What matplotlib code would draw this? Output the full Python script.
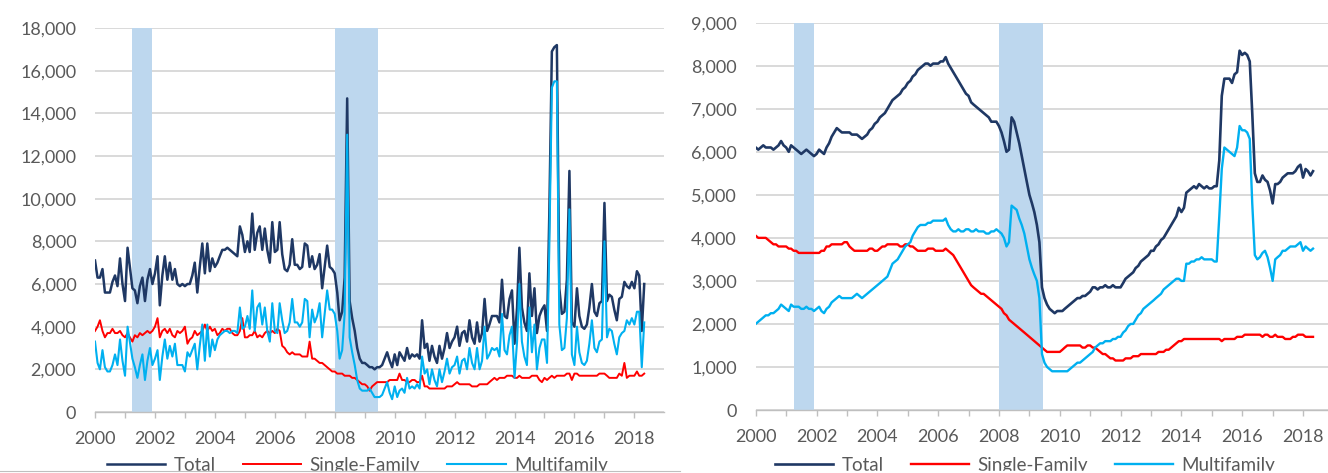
import matplotlib
matplotlib.use("Agg")
import matplotlib.pyplot as plt
import matplotlib.dates as mdates
from matplotlib.patches import Rectangle
from matplotlib.lines import Line2D
from matplotlib.ticker import FuncFormatter
import pandas as pd

plt.rcParams['font.family'] = ['Lato', 'DejaVu Sans']

# monthly, Jan 2000 - May 2018
months = pd.date_range('2000-01-01', periods=221, freq='MS')

# left panel: monthly permits (raw)
total_monthly = [
    7100, 6300, 6300, 6700, 5600, 5600, 5600, 6100, 6400, 5900, 7200, 6000,
    5200, 7700, 6800, 5800, 5700, 5100, 5900, 6300, 5200, 6200, 6700, 6000,
    6500, 7300, 5000, 6400, 7300, 6200, 7000, 6200, 6700, 6000, 5900, 6000,
    5900, 6000, 6000, 6400, 7000, 5600, 6800, 7900, 6500, 7900, 6600, 7200,
    6800, 7000, 7300, 7600, 7600, 7700, 7600, 7500, 7400, 7300, 8700, 8300,
    7500, 8000, 7500, 9300, 7600, 8400, 8700, 7600, 8600, 7600, 7000, 8900,
    7500, 7600, 8900, 7400, 6700, 6600, 6900, 8100, 6900, 6900, 6700, 6800,
    7900, 7800, 6800, 7300, 6700, 6900, 7400, 5800, 6800, 7800, 6800, 6700,
    6500, 5600, 4300, 4700, 6300, 14700, 5200, 4400, 3800, 3000, 2500, 2300,
    2300, 2200, 2100, 2100, 2000, 2100, 2100, 2200, 2500, 2800, 2400, 2100,
    2700, 2200, 2800, 2600, 2400, 3000, 2500, 2700, 2600, 2700, 2500, 4300,
    3000, 3200, 2400, 3100, 2600, 2300, 3100, 2500, 3000, 3700, 3000, 3300,
    3500, 4000, 3100, 3700, 3800, 3300, 4300, 3500, 3200, 4200, 3300, 3700,
    5300, 3800, 4100, 4500, 4500, 4500, 4200, 6200, 4500, 4400, 5300, 5700,
    3200, 4900, 7700, 4900, 4200, 3800, 6500, 4500, 5800, 3700, 4500, 4800,
    5000, 3800, 9300, 16900, 17100, 17200, 5800, 4600, 4700, 6200, 11300, 4200,
    4000, 5800, 4500, 4000, 3900, 4100, 4900, 6000, 4700, 4500, 5100, 5200,
    9800, 5200, 5500, 5400, 4800, 4300, 5300, 5400, 6100, 5900, 5800, 6100,
    5800, 6600, 6400, 3800, 6000,
]
single_monthly = [
    3800, 4000, 4300, 3800, 3500, 3700, 3700, 3900, 3700, 3700, 3800, 3600,
    3500, 3700, 3500, 3300, 3600, 3500, 3700, 3600, 3700, 3800, 3700, 3800,
    4000, 4400, 3500, 3800, 3900, 3700, 3900, 3600, 3500, 3800, 3700, 3800,
    4000, 3200, 3400, 3500, 3800, 3600, 3700, 3800, 4100, 3800, 4000, 3800,
    3900, 3600, 3700, 3900, 3800, 3900, 3900, 3700, 3600, 3600, 3800, 4400,
    3500, 3500, 3600, 3600, 3800, 3500, 3600, 3500, 3700, 3800, 3700, 3800,
    3700, 3900, 3800, 3100, 3000, 2800, 2700, 2800, 2700, 2700, 2700, 2600,
    2600, 2600, 3300, 2500, 2500, 2400, 2300, 2300, 2200, 2100, 2000, 1900,
    1900, 1800, 1800, 1800, 1700, 1700, 1700, 1600, 1600, 1500, 1400, 1300,
    1300, 1200, 1000, 1200, 1300, 1400, 1400, 1400, 1400, 1400, 1500, 1500,
    1500, 1500, 1800, 1500, 1500, 1400, 1400, 1500, 1500, 1400, 1400, 1700,
    1200, 1200, 1100, 1100, 1100, 1100, 1100, 1100, 1100, 1200, 1200, 1200,
    1300, 1400, 1300, 1300, 1300, 1300, 1300, 1200, 1200, 1200, 1300, 1300,
    1300, 1300, 1400, 1500, 1600, 1500, 1600, 1600, 1600, 1700, 1700, 1700,
    1600, 1600, 1700, 1600, 1600, 1600, 1600, 1700, 1700, 1700, 1500, 1400,
    1600, 1500, 1600, 1700, 1600, 1700, 1700, 1700, 1700, 1800, 1800, 1500,
    1800, 1800, 1700, 1700, 1700, 1700, 1700, 1700, 1700, 1700, 1800, 1800,
    1800, 1700, 1600, 1600, 1600, 1600, 1800, 1700, 2300, 1600, 1700, 1700,
    1700, 1900, 1700, 1700, 1800,
]
multi_monthly = [
    3300, 2300, 2000, 2900, 2100, 1900, 1900, 2200, 2700, 2200, 3400, 2400,
    1700, 4000, 3300, 2500, 2100, 1600, 2200, 2700, 1500, 2400, 3000, 2200,
    2500, 2900, 1500, 2600, 3400, 2500, 3100, 2600, 3200, 2200, 2200, 2200,
    1900, 2800, 2600, 2900, 3200, 2000, 3100, 4100, 2400, 4100, 2600, 3400,
    2900, 3400, 3600, 3700, 3800, 3800, 3700, 3800, 3800, 3700, 4900, 3900,
    4000, 4500, 3900, 5700, 3800, 4900, 5100, 4100, 4900, 3800, 3300, 5100,
    3800, 3700, 5100, 4300, 3700, 3800, 4200, 5300, 4200, 4200, 4000, 4200,
    5300, 5200, 3500, 4800, 4200, 4500, 5100, 3500, 4600, 5700, 4800, 4800,
    4600, 3800, 2500, 2900, 4600, 13000, 3500, 2800, 2200, 1500, 1100, 1000,
    1000, 1000, 1100, 900, 700, 700, 700, 800, 1100, 1400, 900, 600,
    1200, 700, 1000, 1100, 900, 1600, 1100, 1200, 1100, 1300, 1100, 2600,
    1800, 2000, 1300, 2000, 1500, 1200, 2000, 1400, 1900, 2500, 1800, 2100,
    2200, 2600, 1800, 2400, 2500, 2000, 3000, 2300, 2000, 3000, 2000, 2400,
    4000, 2500, 2700, 3000, 2900, 3000, 2600, 4600, 2900, 2700, 3600, 4000,
    1600, 3300, 6000, 3300, 2600, 2200, 4900, 2800, 4100, 2000, 3000, 3400,
    3400, 2300, 7700, 15200, 15500, 15500, 4100, 2900, 3000, 4400, 9500, 2700,
    2200, 4000, 2800, 2300, 2200, 2400, 3200, 4300, 3000, 2800, 3300, 3400,
    8000, 3500, 3900, 3800, 3200, 2700, 3500, 3700, 3800, 4300, 4100, 4400,
    4100, 4700, 4700, 2100, 4200,
]

# right panel: smoothed permits
total_smooth = [
    6100, 6050, 6100, 6150, 6100, 6100, 6100, 6050, 6100, 6150, 6250, 6150,
    6100, 6000, 6150, 6100, 6050, 6000, 5950, 6000, 6050, 6000, 5950, 5900,
    5950, 6050, 6000, 5950, 6100, 6200, 6350, 6450, 6550, 6500, 6450, 6450,
    6450, 6450, 6400, 6400, 6400, 6350, 6300, 6350, 6400, 6500, 6550, 6650,
    6700, 6800, 6850, 6900, 7000, 7100, 7200, 7250, 7300, 7350, 7450, 7500,
    7600, 7650, 7750, 7800, 7900, 7950, 8000, 8050, 8050, 8000, 8050, 8050,
    8050, 8100, 8100, 8200, 8050, 7950, 7850, 7750, 7650, 7550, 7450, 7350,
    7300, 7150, 7100, 7050, 7000, 6950, 6900, 6850, 6800, 6700, 6700, 6700,
    6600, 6450, 6250, 6000, 6050, 6800, 6700, 6450, 6200, 5900, 5600, 5300,
    5000, 4800, 4600, 4300, 3900, 2850, 2600, 2450, 2350, 2300, 2250, 2300,
    2300, 2300, 2350, 2400, 2450, 2500, 2550, 2600, 2600, 2650, 2650, 2700,
    2750, 2850, 2850, 2800, 2850, 2850, 2900, 2850, 2850, 2900, 2850, 2850,
    2850, 2950, 3050, 3100, 3150, 3200, 3300, 3350, 3450, 3500, 3550, 3600,
    3700, 3700, 3800, 3850, 3950, 4000, 4100, 4200, 4300, 4400, 4500, 4700,
    4600, 4700, 5050, 5100, 5150, 5200, 5150, 5250, 5200, 5150, 5200, 5150,
    5150, 5200, 5200, 5800, 7300, 7700, 7700, 7700, 7600, 7800, 7850, 8350,
    8250, 8300, 8250, 8100, 6900, 5500, 5300, 5300, 5450, 5350, 5300, 5100,
    4800, 5250, 5250, 5300, 5400, 5450, 5500, 5500, 5500, 5550, 5650, 5700,
    5400, 5600, 5550, 5450, 5550,
]
single_smooth = [
    4050, 4000, 4000, 4000, 4000, 3950, 3900, 3850, 3850, 3800, 3800, 3800,
    3800, 3750, 3750, 3700, 3700, 3650, 3650, 3650, 3650, 3650, 3650, 3650,
    3650, 3650, 3700, 3700, 3800, 3800, 3850, 3850, 3850, 3850, 3850, 3900,
    3900, 3800, 3750, 3700, 3700, 3700, 3700, 3700, 3700, 3750, 3750, 3700,
    3700, 3750, 3800, 3800, 3850, 3850, 3850, 3850, 3850, 3800, 3800, 3850,
    3850, 3800, 3800, 3750, 3700, 3700, 3700, 3700, 3750, 3750, 3750, 3700,
    3700, 3700, 3700, 3750, 3700, 3650, 3600, 3500, 3400, 3300, 3200, 3100,
    3000, 2900, 2850, 2800, 2750, 2700, 2700, 2650, 2600, 2550, 2500, 2450,
    2400, 2350, 2250, 2200, 2100, 2050, 2000, 1950, 1900, 1850, 1800, 1750,
    1700, 1650, 1600, 1550, 1500, 1450, 1400, 1350, 1350, 1350, 1350, 1350,
    1350, 1400, 1450, 1500, 1500, 1500, 1500, 1500, 1500, 1450, 1450, 1500,
    1500, 1450, 1450, 1400, 1350, 1300, 1300, 1250, 1200, 1200, 1150, 1150,
    1150, 1150, 1200, 1200, 1200, 1250, 1250, 1250, 1300, 1300, 1300, 1300,
    1300, 1300, 1300, 1350, 1350, 1350, 1400, 1400, 1450, 1500, 1550, 1600,
    1600, 1650, 1650, 1650, 1650, 1650, 1650, 1650, 1650, 1650, 1650, 1650,
    1650, 1650, 1650, 1650, 1600, 1650, 1650, 1650, 1650, 1650, 1700, 1700,
    1700, 1750, 1750, 1750, 1750, 1750, 1750, 1750, 1700, 1750, 1750, 1700,
    1700, 1750, 1700, 1700, 1700, 1650, 1650, 1650, 1700, 1700, 1750, 1750,
    1750, 1700, 1700, 1700, 1700,
]
multi_smooth = [
    2000, 2050, 2100, 2150, 2200, 2200, 2250, 2250, 2300, 2350, 2450, 2400,
    2350, 2300, 2450, 2400, 2400, 2400, 2350, 2350, 2400, 2350, 2350, 2300,
    2350, 2400, 2300, 2250, 2350, 2400, 2500, 2550, 2600, 2650, 2600, 2600,
    2600, 2600, 2600, 2650, 2700, 2650, 2600, 2650, 2700, 2750, 2800, 2850,
    2900, 2950, 3000, 3050, 3100, 3250, 3400, 3450, 3500, 3600, 3700, 3800,
    3850, 3900, 4050, 4150, 4250, 4300, 4300, 4300, 4350, 4350, 4400, 4400,
    4400, 4400, 4400, 4450, 4300, 4200, 4150, 4150, 4200, 4150, 4150, 4200,
    4200, 4150, 4150, 4200, 4150, 4150, 4150, 4100, 4100, 4150, 4150, 4200,
    4150, 4100, 4000, 3800, 3900, 4750, 4700, 4650, 4450, 4300, 4100, 3800,
    3500, 3300, 3150, 3000, 2600, 1300, 1100, 1000, 950, 900, 900, 900,
    900, 900, 900, 900, 950, 1000, 1050, 1100, 1100, 1150, 1200, 1250,
    1300, 1350, 1450, 1500, 1550, 1550, 1600, 1600, 1600, 1650, 1650, 1700,
    1700, 1800, 1850, 1950, 2000, 2000, 2100, 2200, 2250, 2350, 2400, 2450,
    2500, 2550, 2600, 2650, 2700, 2800, 2850, 2900, 2950, 3000, 3050, 3050,
    3000, 3000, 3400, 3400, 3450, 3450, 3500, 3500, 3550, 3500, 3500, 3500,
    3500, 3450, 3450, 4500, 5600, 6100, 6050, 6000, 5950, 5900, 6100, 6600,
    6500, 6500, 6450, 6300, 4800, 3600, 3500, 3550, 3650, 3700, 3550, 3300,
    3000, 3500, 3550, 3600, 3700, 3700, 3750, 3800, 3800, 3800, 3850, 3900,
    3700, 3800, 3750, 3700, 3750,
]

# recessions (shaded)
recession_start = ['2001-04-01', '2008-01-01']
recession_end = ['2001-11-30', '2009-06-15']

series_names = ['Total', 'Single-Family', 'Multifamily']
series_colors = ['#1F3864', '#FF0000', '#00B0F0']

GRID = '#D9D9D9'
AXIS = '#BFBFBF'
LABEL = '#595959'
SHADE = '#BDD7EE'

W, H = 1328, 473
fig = plt.figure(figsize=(W / 100, H / 100), dpi=100)

ax1 = fig.add_axes([95 / W, 1 - 412 / H, (664 - 95) / W, (412 - 28) / H])
ax2 = fig.add_axes([755.7 / W, 1 - 410 / H, (W - 755.7) / W, (410 - 22.7) / H])

panels = [
    (ax1, [total_monthly, single_monthly, multi_monthly], 18000, 2000,
     '2018-12-28', [1.8, 1.4, 1.5], 357.5),
    (ax2, [total_smooth, single_smooth, multi_smooth], 9000, 1000,
     '2018-10-28', [1.9, 1.7, 1.7], 1025),
]

for ax, data, ymax, ystep, xend, widths, legend_x in panels:
    for s, e in zip(recession_start, recession_end):
        ax.axvspan(pd.Timestamp(s), pd.Timestamp(e), color=SHADE, lw=0, zorder=1)

    lines = []
    for vals, name, col, lw in zip(data, series_names, series_colors, widths):
        ln, = ax.plot(months, vals, color=col, lw=lw, label=name, zorder=3)
        lines.append(ln)

    ax.set_ylim(0, ymax)
    ax.set_yticks(range(0, ymax + 1, ystep))
    ax.yaxis.set_major_formatter(FuncFormatter(lambda v, p: f'{v:,.0f}'))
    ax.set_xlim(pd.Timestamp('2000-01-01'), pd.Timestamp(xend))
    ax.xaxis.set_major_locator(mdates.YearLocator(2))
    ax.xaxis.set_minor_locator(mdates.YearLocator(1))
    ax.xaxis.set_major_formatter(mdates.DateFormatter('%Y'))

    ax.yaxis.grid(True, color=GRID, lw=1.4)
    ax.set_axisbelow(True)
    for side in ['left', 'top', 'right']:
        ax.spines[side].set_visible(False)
    ax.spines['bottom'].set_color(AXIS)
    ax.spines['bottom'].set_linewidth(1.0)

    ax.tick_params(axis='y', length=0, pad=13.5, labelsize=13, labelcolor=LABEL)
    ax.tick_params(axis='x', which='both', length=4.5, width=1.0, color=AXIS,
                   pad=9.5, labelsize=13, labelcolor=LABEL)

    fig.legend(handles=lines, loc='center', ncol=3, frameon=False,
               bbox_to_anchor=(legend_x / W, 1 - 465.5 / H),
               bbox_transform=fig.transFigure, fontsize=13.5,
               handlelength=3.1, handletextpad=0.45, columnspacing=1.45,
               labelcolor=LABEL)

# cropped bottom edge of the source image
fig.add_artist(Rectangle((0, 0), 1, 2.5 / H, transform=fig.transFigure,
                         color='white', zorder=20))
fig.add_artist(Line2D([0, 680 / W], [2.5 / H, 2.5 / H], transform=fig.transFigure,
                      color=AXIS, lw=0.8, zorder=21))

fig.savefig('out.png', dpi=100)
